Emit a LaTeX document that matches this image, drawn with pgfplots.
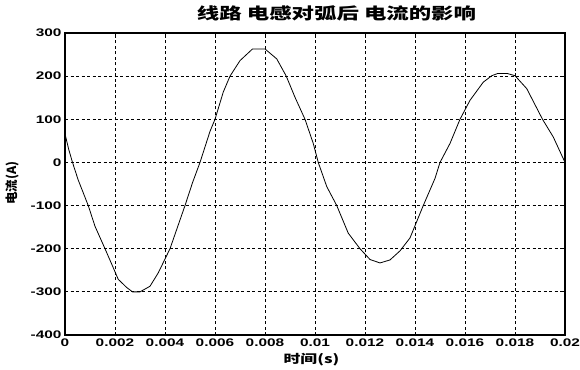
\documentclass[border=0pt]{standalone}
\usepackage{pgfplots}
\pgfplotsset{compat=1.18}
\usepackage{fontspec}
\setmainfont{Liberation Sans}[FakeStretch=1.4]
\newfontfamily\cjk{Noto Sans CJK SC}[FakeStretch=1.4]
\newfontfamily\cjkplain{Noto Sans CJK SC}
\begin{document}
\begin{tikzpicture}[x=1pt,y=1pt]
\useasboundingbox (0,0) rectangle (580,369);
\begin{axis}[
  at={(65pt,34pt)}, anchor=south west,
  scale only axis, width=500pt, height=302pt,
  xmin=0, xmax=0.02, ymin=-400, ymax=300,
  xtick={0,0.002,0.004,0.006,0.008,0.01,0.012,0.014,0.016,0.018,0.02},
  xticklabels={0,0.002,0.004,0.006,0.008,0.01,0.012,0.014,0.016,0.018,0.02},
  ytick={-400,-300,-200,-100,0,100,200,300},
  scaled x ticks=false,
  /pgf/number format/assume math mode=true,
  grid=major,
  major grid style={black, dash pattern=on 3pt off 2.5pt, line width=0.9pt},
  axis line style={line width=1.2pt},
  tick align=inside, major tick length=3pt,
  tick style={black, line width=0.8pt},
  tick label style={font=\bfseries\fontsize{11}{13}\selectfont},
  title={\cjk\bfseries 线路 电感对弧后 电流的影响},
  title style={at={(axis description cs:0.543,1.046)}, anchor=center, font=\fontsize{16}{18}\selectfont},
  xlabel={\cjk\bfseries 时间(s)},
  xlabel style={at={(axis description cs:0.493,-0.083)}, anchor=center, font=\fontsize{12}{14}\selectfont},
  ylabel={\cjkplain\bfseries 电流(A)},
  ylabel style={at={(axis description cs:-0.106,0.503)}, anchor=center, font=\fontsize{12.5}{14}\selectfont},
]
\addplot[black, line width=0.8pt] coordinates {
(0,66) (0.00015,30) (0.0003,0) (0.00053,-41) (0.0007,-66) (0.00093,-100)
(0.0012,-148) (0.0016,-200) (0.0019,-240) (0.00213,-271) (0.00247,-290)
(0.0027,-300) (0.0030,-300) (0.0034,-287) (0.00373,-256) (0.0042,-200)
(0.0045,-150) (0.0048,-100) (0.0051,-47) (0.0054,0) (0.0058,72) (0.006,100)
(0.00633,163) (0.0066,200) (0.007,236) (0.0075,263) (0.0080,263)
(0.00847,240) (0.00885,200) (0.0092,151) (0.0096,100) (0.00993,44)
(0.01013,0) (0.01047,-56) (0.01087,-100) (0.01133,-164) (0.0118,-200)
(0.0122,-225) (0.0126,-233) (0.0130,-226) (0.0134,-205) (0.0138,-175)
(0.01433,-100) (0.0148,-37) (0.0150,0) (0.0154,44) (0.0158,100)
(0.0162,144) (0.01673,186) (0.01707,201) (0.0173,206) (0.0177,206)
(0.018,201) (0.01847,171) (0.0191,100) (0.01953,59) (0.02,0)
};
\end{axis}
\end{tikzpicture}
\end{document}
